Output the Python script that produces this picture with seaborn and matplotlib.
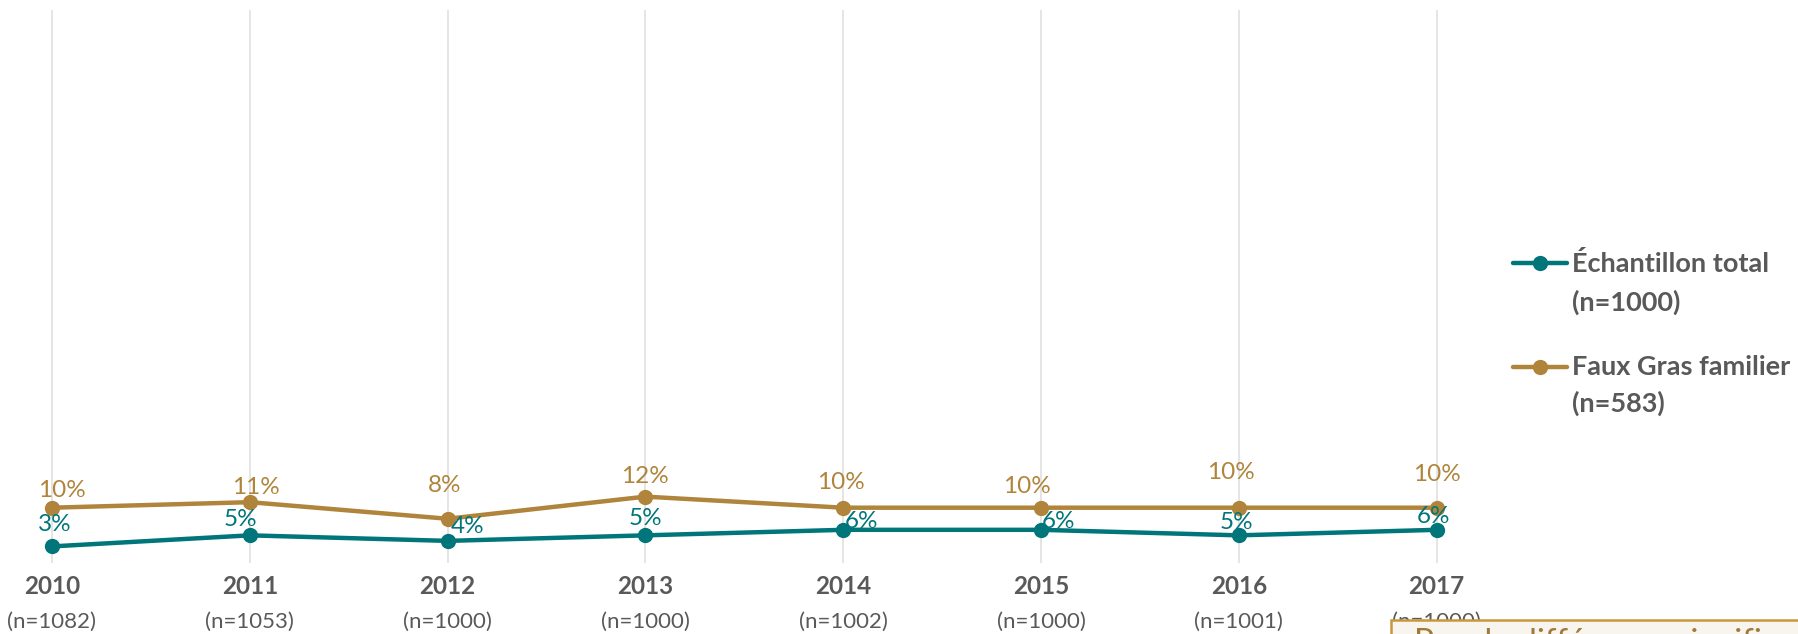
import numpy as np
import pandas as pd
import matplotlib
matplotlib.use("Agg")
import matplotlib.pyplot as plt
import seaborn as sns
from matplotlib.lines import Line2D
from matplotlib.patches import Rectangle
from matplotlib.transforms import blended_transform_factory

# ---- data ----
years = ["2010", "2011", "2012", "2013", "2014", "2015", "2016", "2017"]
sample_sizes = ["(n=1082)", "(n=1053)", "(n=1000)", "(n=1000)",
                "(n=1002)", "(n=1000)", "(n=1001)", "(n=1000)"]
total_sample = [3, 5, 4, 5, 6, 6, 5, 6]
faux_gras = [10, 11, 8, 12, 10, 10, 10, 10]
series_names = ["Échantillon total", "Faux Gras familier"]
series_counts = ["(n=1000)", "(n=583)"]
note_text = "Pas de différence significative"

TEAL = "#00757A"
GOLD = "#B0843A"
GREY = "#595959"

W, H = 1798, 634


def fx(px):
    return px / W


def fy(py):
    return 1 - py / H


sns.set_style("white")
plt.rcParams["font.family"] = ["Lato", "DejaVu Sans"]

fig = plt.figure(figsize=(W / 100, H / 100), dpi=100)
ax_left, ax_right, ax_top, ax_bottom = 10, 1480, 10, 563
ax = fig.add_axes([fx(ax_left), fy(ax_bottom), fx(ax_right - ax_left), (ax_bottom - ax_top) / H])

step = 197.8
first = 52
ax.set_xlim((ax_left - first) / step, (ax_right - first) / step)
ax.set_ylim(0, 100)

df = pd.DataFrame({
    "pos": list(range(len(years))) * 2,
    "value": total_sample + faux_gras,
    "series": [series_names[0]] * len(years) + [series_names[1]] * len(years),
})
palette = {series_names[0]: TEAL, series_names[1]: GOLD}

sns.lineplot(data=df, x="pos", y="value", hue="series", palette=palette,
             marker="o", markersize=11, markeredgewidth=0, linewidth=3.2,
             legend=False, sort=False, ax=ax)

# vertical category gridlines
ax.set_xticks(range(len(years)))
ax.grid(axis="x", color="#E3E3E3", linewidth=1.3)
ax.grid(axis="y", visible=False)
ax.set_axisbelow(True)
ax.set_yticks([])
ax.set_xlabel("")
ax.set_ylabel("")
for sp in ax.spines.values():
    sp.set_visible(False)
ax.tick_params(axis="x", length=0, pad=9)
ax.set_xticklabels(years, fontsize=17.5, fontweight="bold", color=GREY)

# sample sizes under the years
trans = blended_transform_factory(ax.transData, ax.transAxes)
for i, s in enumerate(sample_sizes):
    ax.text(i, (ax_bottom - 622) / (ax_bottom - ax_top), s, transform=trans,
            ha="center", va="center", fontsize=16, color=GREY, clip_on=False)

# value labels (offsets in pixels: dx right, dy up)
gold_offsets = [(10, 17), (6, 15), (-3, 33), (0, 20), (-2, 25), (-14, 21), (-8, 35), (0, 33)]
teal_offsets = [(3, 22), (-9, 16), (20, 14), (0, 17), (18, 8), (18, 8), (-2, 13), (-3, 13)]
for vals, offs, col in ((faux_gras, gold_offsets, GOLD), (total_sample, teal_offsets, TEAL)):
    for i, (v, (dx, dy)) in enumerate(zip(vals, offs)):
        ax.annotate(f"{v}%", (i, v), xytext=(dx * 0.72, dy * 0.72),
                    textcoords="offset points", ha="center", va="center",
                    fontsize=17.5, color=col, zorder=5)

# legend
legend_rows = [(263, 302, TEAL), (367, 403, GOLD)]
for (y1, y2, col), name, cnt in zip(legend_rows, series_names, series_counts):
    fig.add_artist(Line2D([fx(1513), fx(1567)], [fy(y1), fy(y1)], color=col,
                          linewidth=3.2, transform=fig.transFigure))
    fig.add_artist(Line2D([fx(1540)], [fy(y1)], color=col, marker="o",
                          markersize=11, markeredgewidth=0, linestyle="none",
                          transform=fig.transFigure))
    fig.text(fx(1572), fy(y1), name, ha="left", va="center", fontsize=19.5,
             fontweight="bold", color=GREY)
    fig.text(fx(1572), fy(y2), cnt, ha="left", va="center", fontsize=19.5,
             fontweight="bold", color=GREY)

# note box at the bottom right
box = Rectangle((fx(1391), -0.1), 1, fy(620) + 0.1, transform=fig.transFigure,
                facecolor="#F8F5EE", edgecolor="#C8963E", linewidth=1.8, zorder=3)
fig.add_artist(box)
fig.text(fx(1414), fy(628), note_text, ha="left", va="top", fontsize=24,
         color="#A07A3A", zorder=4)

fig.savefig("out.png", dpi=100)
